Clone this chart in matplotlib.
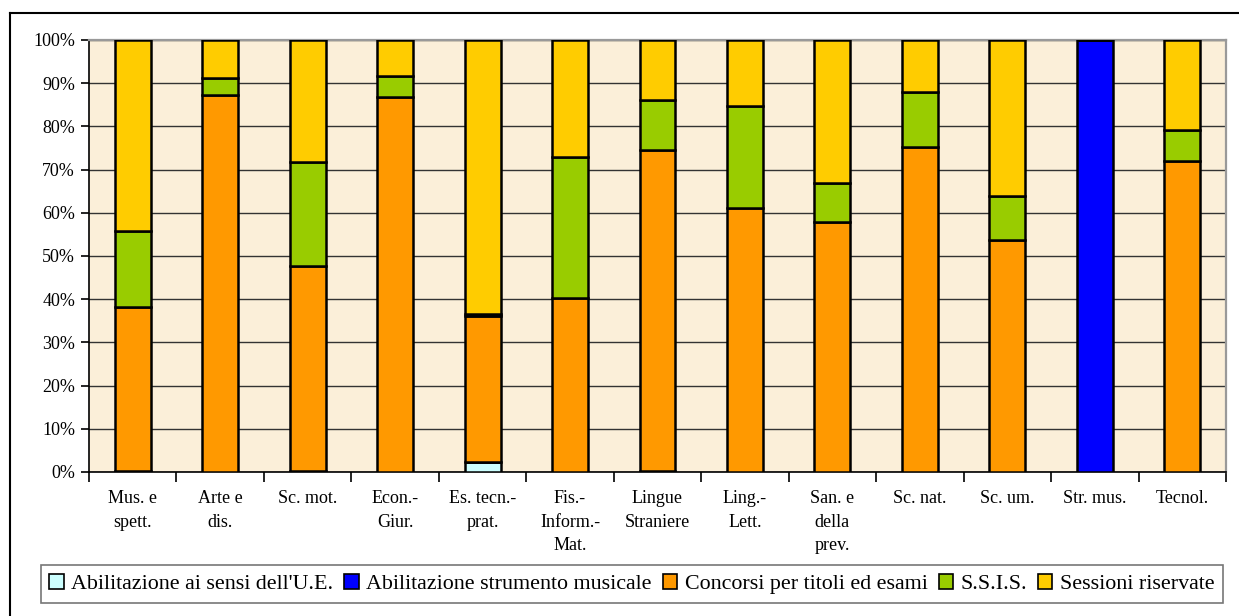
import numpy as np
import matplotlib.pyplot as plt
from matplotlib.lines import Line2D
from matplotlib.patches import Rectangle

# Ripartizione percentuale per classe di concorso
categorie = ['Mus. e\nspett.', 'Arte e\ndis.', 'Sc. mot.', 'Econ.-\nGiur.',
             'Es. tecn.-\nprat.', 'Fis.-\nInform.-\nMat.', 'Lingue\nStraniere',
             'Ling.-\nLett.', 'San. e\ndella\nprev.', 'Sc. nat.', 'Sc. um.',
             'Str. mus.', 'Tecnol.']

abilitazione_ue = [0.3, 0, 0.3, 0, 2.3, 0, 0.3, 0, 0, 0, 0, 0, 0]
strumento_mus = [0, 0, 0, 0, 0, 0, 0, 0, 0, 0, 0, 100, 0]
concorsi = [37.9, 87.3, 47.4, 86.8, 33.7, 40.3, 74.2, 61.1, 57.9, 75.2, 53.7, 0, 72.0]
ssis = [17.6, 3.9, 24.1, 4.9, 0.6, 32.6, 11.6, 23.6, 9.0, 12.8, 10.2, 0, 7.2]
sessioni = [44.2, 8.8, 28.2, 8.3, 63.4, 27.1, 13.9, 15.3, 33.1, 12.0, 36.1, 0, 20.8]

serie = [
    ("Abilitazione ai sensi dell'U.E.", abilitazione_ue, '#CCFFFF'),
    ('Abilitazione strumento musicale', strumento_mus, '#0000FF'),
    ('Concorsi per titoli ed esami', concorsi, '#FF9900'),
    ('S.S.I.S.', ssis, '#99CC00'),
    ('Sessioni riservate', sessioni, '#FFCC00'),
]

plt.rcParams['font.family'] = ['Liberation Serif', 'DejaVu Serif']

fig = plt.figure(figsize=(12.39, 6.16), dpi=100)
ax = fig.add_axes([89 / 1239, 1 - 472 / 616, (1226 - 89) / 1239, 432 / 616])
ax.set_facecolor('#FBEFD9')

x = np.arange(len(categorie))
base = np.zeros(len(categorie))
handles = []
for nome, valori, colore in serie:
    v = np.array(valori, dtype=float)
    ax.bar(x, v, bottom=base, width=0.41, color=colore, edgecolor='black',
           linewidth=1.8, zorder=3)
    base += v
    handles.append(Rectangle((0, 0), 1, 1, facecolor=colore, edgecolor='black',
                             linewidth=1.2))

ax.set_xlim(-0.5, len(categorie) - 0.5)
ax.set_ylim(0, 100)
ax.set_yticks(np.arange(0, 101, 10))
ax.set_yticklabels([f'{t}%' for t in range(0, 101, 10)], fontsize=13)
ax.yaxis.grid(True, color='#333333', linewidth=1.0, zorder=1)
ax.tick_params(axis='y', direction='out', length=6, width=1.2, pad=4)

ax.set_xticks(x)
ax.set_xticklabels(categorie, fontsize=13, linespacing=1.5, va='top')
ax.tick_params(axis='x', which='major', length=0, pad=13)
ax.set_xticks(np.arange(-0.5, len(categorie), 1), minor=True)
ax.tick_params(axis='x', which='minor', direction='out', length=7, width=1.2)

for lato in ['left', 'bottom']:
    ax.spines[lato].set_color('black')
    ax.spines[lato].set_linewidth(1.2)
for lato in ['top', 'right']:
    ax.spines[lato].set_color('#999999')
    ax.spines[lato].set_linewidth(1.6)

leg = fig.legend(handles, [s[0] for s in serie], loc='center',
                 bbox_to_anchor=(632 / 1239, 1 - 584 / 616), ncol=5,
                 fontsize=15.8, frameon=True, fancybox=False,
                 handlelength=0.65, handleheight=0.65, handletextpad=0.35,
                 columnspacing=0.5, borderpad=0.4)
leg.get_frame().set_edgecolor('#555555')
leg.get_frame().set_linewidth(1.2)

# cornice esterna del grafico
fig.add_artist(Line2D([10 / 1239, 10 / 1239], [0, 1 - 13 / 616],
                      color='black', linewidth=1.5))
fig.add_artist(Line2D([10 / 1239, 1], [1 - 13 / 616, 1 - 13 / 616],
                      color='black', linewidth=1.5))

fig.savefig('out.png', dpi=100)
